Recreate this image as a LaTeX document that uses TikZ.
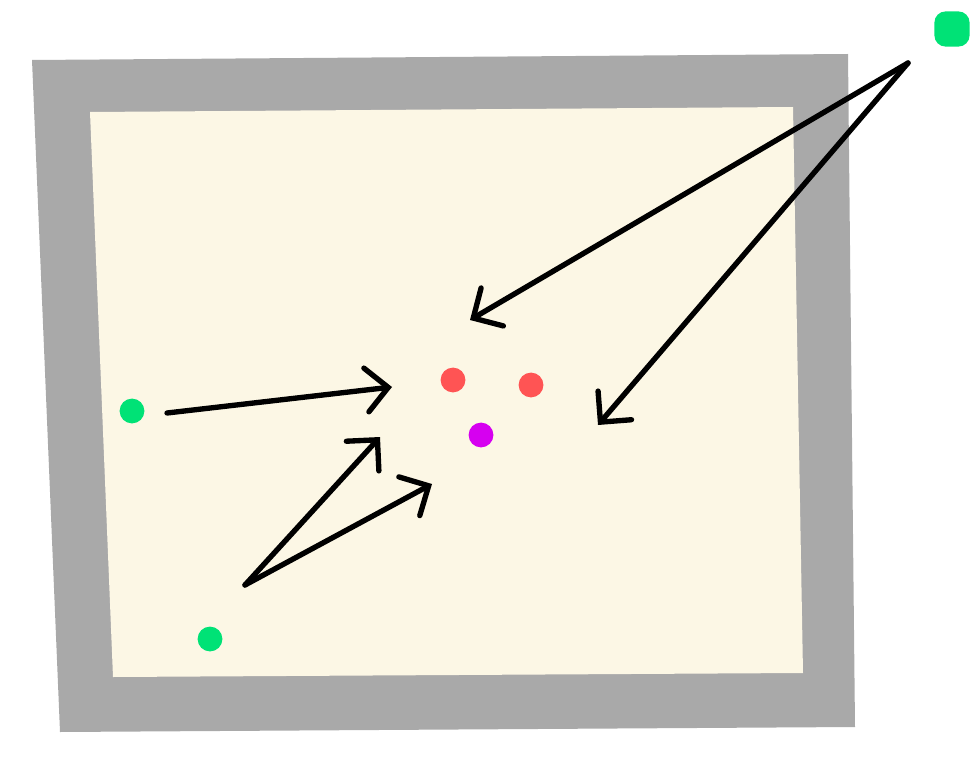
\documentclass[tikz,border=0pt]{standalone}
\usetikzlibrary{arrows.meta}
\definecolor{framegray}{RGB}{169,169,169}
\definecolor{papercream}{RGB}{252,247,229}
\definecolor{dotgreen}{RGB}{0,226,118}
\definecolor{dotred}{RGB}{255,84,84}
\definecolor{dotpurple}{RGB}{214,0,240}

\begin{document}
\begin{tikzpicture}[x=0.025cm,y=-0.025cm,
    dot/.style={circle,inner sep=0pt,minimum size=0.62cm},
    pull/.style={line width=3.8pt,line cap=round,line join=round,
        -{Straight Barb[length=5.5mm,width=11mm,line cap=round]}}]
\useasboundingbox (0,0) rectangle (974,768);
% frame
\fill[framegray] (32,60) -- (848,54) -- (855,727) -- (60,732) -- cycle;
\fill[papercream] (90,112) -- (793,107) -- (803,673) -- (113,677) -- cycle;
% dots
\foreach \x/\y/\c/\n in {132/411/dotgreen/gleft, 210/639/dotgreen/gbottom,
    453/380/dotred/rleft, 531/385/dotred/rright, 481/435/dotpurple/pmid}
    \node[dot,fill=\c] (\n) at (\x,\y) {};
\node[dot,fill=dotgreen,rounded corners=8pt,rectangle,minimum size=0.88cm] (gtop) at (952,29) {};
% arrows
\coordinate (topapex) at (908,63);
\coordinate (lowapex) at (245,585);
\coordinate (leftstart) at (167,413);
\foreach \tx/\ty/\n in {470/320/ta, 598/425/tb, 392/387/tc, 380/437/td, 432/484/te}
    \coordinate (\n) at (\tx,\ty);
\draw[pull] (topapex) -- (ta);
\draw[pull] (topapex) -- (tb);
\draw[pull] (leftstart) -- (tc);
\draw[pull] (lowapex) -- (td);
\draw[pull] (lowapex) -- (te);
\end{tikzpicture}
\end{document}
